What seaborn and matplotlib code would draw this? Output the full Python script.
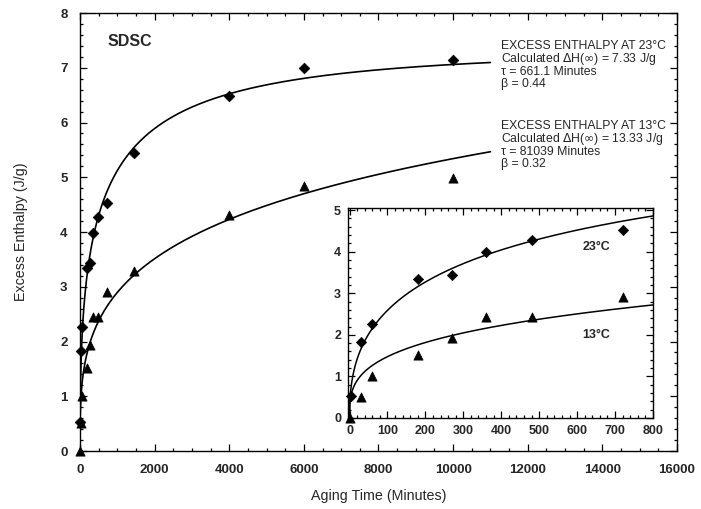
import numpy as np
import pandas as pd
import matplotlib
matplotlib.use("Agg")
import matplotlib.pyplot as plt
from matplotlib.ticker import MultipleLocator
import seaborn as sns

# Measured excess enthalpy (J/g) versus aging time (minutes)
time_23c = [5, 30, 60, 180, 270, 360, 480, 720, 1440, 4000, 6000, 10000]
enthalpy_23c = [0.53, 1.82, 2.26, 3.35, 3.44, 3.98, 4.27, 4.53, 5.44, 6.48, 7.00, 7.14]

time_13c = [0, 30, 60, 180, 270, 360, 480, 720, 1440, 4000, 6000, 10000]
enthalpy_13c = [0.0, 0.51, 1.00, 1.52, 1.93, 2.44, 2.44, 2.91, 3.28, 4.32, 4.84, 4.98]

# KWW fit parameters: dH(inf) [J/g], tau [min], beta
fit_23c = dict(dh_inf=7.33, tau=661.1, beta=0.44)
fit_13c = dict(dh_inf=13.33, tau=81039, beta=0.32)

x_ticks_main = [0, 2000, 4000, 6000, 8000, 10000, 12000, 14000, 16000]
y_ticks_main = [0, 1, 2, 3, 4, 5, 6, 7, 8]
x_ticks_inset = [0, 100, 200, 300, 400, 500, 600, 700, 800]
y_ticks_inset = [0, 1, 2, 3, 4, 5]


def kww(t, dh_inf, tau, beta):
    t = np.asarray(t, dtype=float)
    return dh_inf * (1.0 - np.exp(-(t / tau) ** beta))


def fit_frame(t_max, fit):
    t = np.linspace(0, t_max, 2000)
    return pd.DataFrame({"t": t, "h": kww(t, **fit)})


df23 = pd.DataFrame({"t": time_23c, "h": enthalpy_23c})
df13 = pd.DataFrame({"t": time_13c, "h": enthalpy_13c})

sns.set_style("ticks")
plt.rcParams["font.family"] = ["Liberation Sans", "DejaVu Sans"]
plt.rcParams["mathtext.fontset"] = "dejavusans"

fig = plt.figure(figsize=(7.01, 5.09), dpi=100)
ax = fig.add_axes([0.1141, 0.1139, 0.8516, 0.8605])


def style_axes(a, xmaj, xmin, ymaj, ymin, size, pad):
    a.xaxis.set_major_locator(MultipleLocator(xmaj))
    a.xaxis.set_minor_locator(MultipleLocator(xmin))
    a.yaxis.set_major_locator(MultipleLocator(ymaj))
    a.yaxis.set_minor_locator(MultipleLocator(ymin))
    a.tick_params(which="both", direction="in", top=True, right=True,
                  color="black", width=0.9)
    a.tick_params(which="major", length=5, labelsize=size, pad=pad)
    a.tick_params(which="minor", length=2.5)
    for s in a.spines.values():
        s.set_visible(True)
        s.set_color("black")
        s.set_linewidth(1.0)
    for lbl in a.get_xticklabels() + a.get_yticklabels():
        lbl.set_fontweight("bold")


# Main panel
sns.lineplot(data=fit_frame(11000, fit_23c), x="t", y="h", ax=ax,
             color="black", lw=1.2)
sns.lineplot(data=fit_frame(11000, fit_13c), x="t", y="h", ax=ax,
             color="black", lw=1.2)
sns.scatterplot(data=df23, x="t", y="h", ax=ax, marker="D", s=30,
                color="black", edgecolor="black", zorder=5, clip_on=False)
sns.scatterplot(data=df13, x="t", y="h", ax=ax, marker="^", s=44,
                color="black", edgecolor="black", zorder=5, clip_on=False)
ax.set_xlim(0, 16000)
ax.set_ylim(0, 8)
ax.set_xticks(x_ticks_main)
ax.set_yticks(y_ticks_main)
ax.set_xticklabels([str(v) for v in x_ticks_main])
ax.set_yticklabels([str(v) for v in y_ticks_main])
style_axes(ax, 2000, 500, 1, 0.2, 9.5, 9)
ax.set_xlabel("Aging Time (Minutes)", fontsize=10.3, labelpad=10)
ax.set_ylabel("Excess Enthalpy (J/g)", fontsize=10.3, labelpad=23)

ax.text(0.046, 0.935, "SDSC", transform=ax.transAxes, fontsize=11.5,
        fontweight="bold", va="center", ha="left")

note_23 = ("EXCESS ENTHALPY AT 23°C\n"
           "Calculated $\\Delta$H($\\infty$) = 7.33 J/g\n"
           "τ = 661.1 Minutes\n"
           "β = 0.44")
note_13 = ("EXCESS ENTHALPY AT 13°C\n"
           "Calculated $\\Delta$H($\\infty$) = 13.33 J/g\n"
           "τ = 81039 Minutes\n"
           "β = 0.32")
fig.text(501 / 701, 1 - 40 / 509, note_23, fontsize=8.8, va="top", ha="left",
         linespacing=0.92)
fig.text(501 / 701, 1 - 120 / 509, note_13, fontsize=8.8, va="top", ha="left",
         linespacing=0.92)

# Inset: first 800 minutes
ax_in = fig.add_axes([348 / 701, 1 - 418 / 509, 305 / 701, 210 / 509])
sns.lineplot(data=fit_frame(800, fit_23c), x="t", y="h", ax=ax_in,
             color="black", lw=1.1)
sns.lineplot(data=fit_frame(800, fit_13c), x="t", y="h", ax=ax_in,
             color="black", lw=1.1)
sns.scatterplot(data=df23[df23.t <= 800], x="t", y="h", ax=ax_in, marker="D",
                s=28, color="black", edgecolor="black", zorder=5, clip_on=False)
sns.scatterplot(data=df13[df13.t <= 800], x="t", y="h", ax=ax_in, marker="^",
                s=44, color="black", edgecolor="black", zorder=5, clip_on=False)
ax_in.set_xlim(-4, 800)
ax_in.set_ylim(0, 5.05)
ax_in.set_xticks(x_ticks_inset)
ax_in.set_yticks(y_ticks_inset)
ax_in.set_xticklabels([str(v) for v in x_ticks_inset])
ax_in.set_yticklabels([str(v) for v in y_ticks_inset])
style_axes(ax_in, 100, 20, 1, 0.2, 9, 5)
ax_in.set_xlabel("")
ax_in.set_ylabel("")
ax_in.set_facecolor("white")
ax_in.text(650, 4.11, "23°C", fontsize=9, fontweight="bold",
           ha="center", va="center")
ax_in.text(650, 2.0, "13°C", fontsize=9, fontweight="bold",
           ha="center", va="center")

fig.savefig("out.png", dpi=100)
